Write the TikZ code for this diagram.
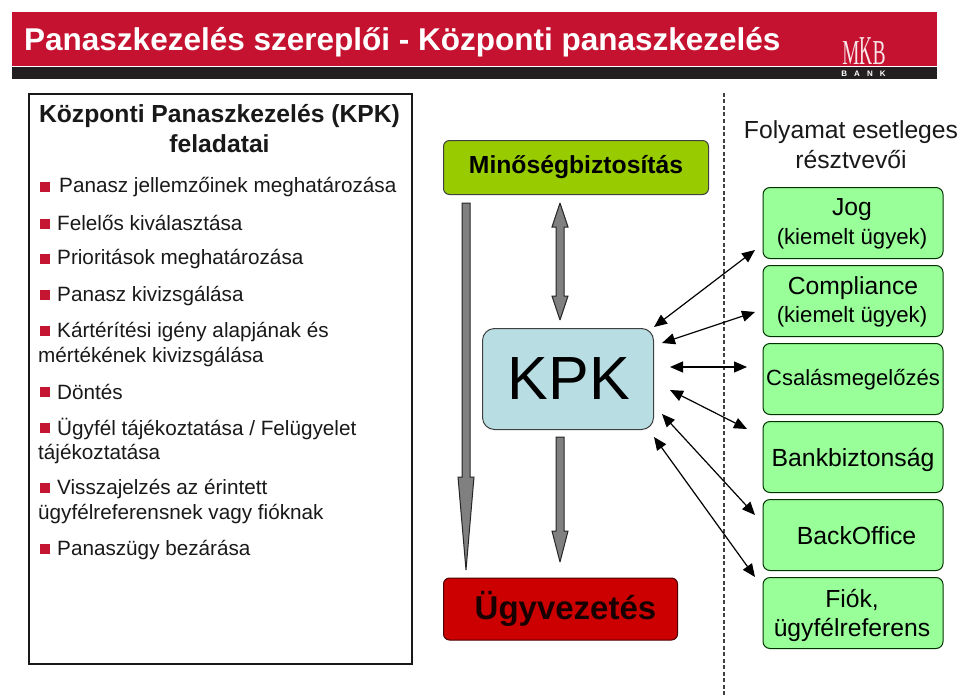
\documentclass[tikz,border=0pt]{standalone}
\usepackage{fontspec}
\setmainfont{Liberation Sans}
\newfontfamily\mkbfont{Liberation Serif}
\usetikzlibrary{arrows.meta,calc}
\definecolor{mkbred}{RGB}{196,18,48}
\definecolor{bul}{RGB}{196,22,50}
\definecolor{bargrey}{RGB}{35,31,32}
\definecolor{limeg}{RGB}{153,204,0}
\definecolor{kpkblue}{RGB}{184,222,228}
\definecolor{ugyred}{RGB}{204,0,0}
\definecolor{lgreen}{RGB}{153,255,153}
\definecolor{arrgrey}{RGB}{128,128,128}
\newcommand{\fs}[1]{\fontsize{#1}{#1}\selectfont}
\tikzset{
  listtext/.style={anchor=west,inner sep=0pt,align=left,text=black!90,font=\fs{20.7}},
  bulletbox/.style={fill=bul,minimum size=10pt,inner sep=0pt,outer sep=0pt,draw=none},
  actor/.style={draw=black!80!green,line width=1pt,rounded corners=7pt,fill=lgreen,anchor=north west,outer sep=0pt,inner sep=0pt,minimum width=180pt,minimum height=71pt},
  link/.style={black,line width=1.2pt,{Triangle[length=13pt,width=11pt]}-{Triangle[length=13pt,width=11pt]}},
  blockarrow/.style={fill=arrgrey,draw=black!85,line width=1pt,miter limit=2},
  logo/.style={text=white!90!mkbred,inner sep=0pt,anchor=base,font=\mkbfont},
}
\newcommand{\downblock}[5]{%
  \draw[blockarrow]
   let \p1=(#1),\p2=(#2) in
   (\x1-#4,\y1)--(\x1+#4,\y1)--(\x1+#4,\y2+#3)--(\x1+#5,\y2+#3)--(\x2,\y2)--(\x1-#5,\y2+#3)--(\x1-#4,\y2+#3)--cycle;}
\begin{document}
\begin{tikzpicture}[x=1pt,y=-1pt]
\useasboundingbox (0,0) rectangle (960,698);
% header
\node[fill=mkbred,minimum width=925pt,minimum height=54pt,inner sep=0,outer sep=0,anchor=north west] (band) at (12,12.5) {};
\fill[bargrey] (12,67.5) rectangle (937,79);
\node[anchor=west,inner sep=0pt,text=white,font=\bfseries\fs{31.5}] (title) at (24,42) {Panaszkezelés szereplői - Központi panaszkezelés};
\node[logo] (mkb) at (864,65) {\fs{35}\scalebox{.55}[1]{M}\fs{41}\scalebox{.44}[1]{K}\fs{35}\scalebox{.56}[1]{B}};
\node[text=white,inner sep=0pt,font=\bfseries\fs{8}] (bank) at (863.5,74) {B\hspace{7pt}A\hspace{7pt}N\hspace{7pt}K};
% left panel
\node[draw=black!90,line width=2pt,fill=white,anchor=north west,minimum width=383pt,minimum height=569pt,inner sep=0,outer sep=0] (panel) at (28.5,94.5) {};
\node[inner sep=0pt,align=center,font=\bfseries\fs{24.7},text=black!90] (ptitle) at (219.5,128.5) {Központi Panaszkezelés (KPK)\\[5pt]feladatai};
\foreach \n/\yy in {a/187,b/224,c/259,d/295,e/331,f/392,g/428,h/488,i/549}{
  \node[bulletbox] (bul\n) at (45,\yy) {};
}
\node[listtext] (ta) at (59,187) {Panasz jellemzőinek meghatározása};
\node[listtext] (tb) at (57,223) {Felelős kiválasztása};
\node[listtext] (tc) at (57,259.5) {Prioritások meghatározása};
\node[listtext] (td) at (57,296) {Panasz kivizsgálása};
\node[listtext] (te) at (57,332) {Kártérítési igény alapjának és};
\node[listtext] (te2) at (38,357) {mértékének kivizsgálása};
\node[listtext] (tf) at (57,392) {Döntés};
\node[listtext] (tg) at (57,429) {Ügyfél tájékoztatása / Felügyelet};
\node[listtext] (tg2) at (38,454) {tájékoztatása};
\node[listtext] (th) at (57,489) {Visszajelzés az érintett};
\node[listtext] (th2) at (38,514) {ügyfélreferensnek vagy fióknak};
\node[listtext] (ti) at (57,550) {Panaszügy bezárása};
% centre boxes
\node[draw=black!75,line width=1pt,rounded corners=6pt,fill=limeg,anchor=north west,minimum width=265pt,minimum height=54pt,inner sep=0,outer sep=0,font=\bfseries\fs{24.7}] (mb) at (443.5,140.5) {Minőségbiztosítás};
\node[draw=black!75,line width=1pt,rounded corners=12pt,fill=kpkblue,anchor=north west,minimum width=171pt,minimum height=101pt,inner sep=0,outer sep=0] (kpk) at (482.5,328.5) {};
\node[inner sep=0,outer sep=0,font=\fs{61}] (kpkt) at (569,379) {KPK};
\node[draw=black!70!red,line width=1pt,rounded corners=6pt,fill=ugyred,anchor=north west,minimum width=234pt,minimum height=62pt,inner sep=0,outer sep=0] (ugy) at (443.5,578) {};
\node[font=\bfseries\fs{33},inner sep=0pt,text=black!90!red] (ugyt) at (565.5,608.5) {Ügyvezetés};
% block arrows
\coordinate (a1s) at (466,203);
\coordinate (a1e) at (466,570);
\downblock{a1s}{a1e}{93}{4}{8}
\coordinate (a2s) at (560,437);
\coordinate (a2e) at (560,562);
\downblock{a2s}{a2e}{31}{4}{8}
\coordinate (a3t) at (560,203);
\coordinate (a3b) at (560,320);
\draw[blockarrow]
  let \p1=(a3t),\p2=(a3b) in
  (\x1,\y1)--(\x1+8,\y1-24)--(\x1+4,\y1-24)--(\x1+4,\y2+24)--(\x1+8,\y2+24)--(\x2,\y2)
  --(\x1-8,\y2+24)--(\x1-4,\y2+24)--(\x1-4,\y1-24)--(\x1-8,\y1-24)--cycle;
% dashed divider
\coordinate (dt) at (724,93);
\coordinate (db) at (724,695);
\draw[black!75,line width=1.6pt,dash pattern=on 4pt off 2.5pt] (dt) -- (db);
% right column
\node[inner sep=0pt,align=center,font=\fs{24.7},text=black!90] (ft) at (851,144.5) {Folyamat esetleges\\[5pt]résztvevői};
\node[actor] (jog) at (763,187.5) {};
\node[inner sep=0,font=\fs{24.7}] (jogt) at (852,210) {Jog};
\node[inner sep=0,font=\fs{22.2}] (jogs) at (852,238.5) {(kiemelt ügyek)};
\node[actor] (comp) at (763,265.5) {};
\node[inner sep=0,font=\fs{24.7}] (compt) at (853,288) {Compliance};
\node[inner sep=0,font=\fs{22.2}] (comps) at (852,316.5) {(kiemelt ügyek)};
\node[actor] (csal) at (763,343.5) {};
\node[inner sep=0,font=\fs{22}] (csalt) at (853,379.5) {Csalásmegelőzés};
\node[actor] (bank2) at (763,421.5) {};
\node[inner sep=0,font=\fs{24.8}] (bankt) at (853,459.5) {Bankbiztonság};
\node[actor] (bo) at (763,499.5) {};
\node[inner sep=0,font=\fs{24.8}] (bot) at (856.5,536) {BackOffice};
\node[actor] (fiok) at (763,577.5) {};
\node[inner sep=0,font=\fs{24.7}] (fiokt) at (852,600) {Fiók,};
\node[inner sep=0,font=\fs{24.7}] (fiokr) at (852,629.5) {ügyfélreferens};
% links
\foreach \n/\ax/\ay/\bx/\by in {1/654/327/755/250,2/662/343/755/312,3/670/367/747/367,4/670/390/747/429,5/662/414/755/515,6/654/437/755/577}{
  \coordinate (k\n) at (\ax,\ay);
  \coordinate (r\n) at (\bx,\by);
  \draw[link] (k\n) -- (r\n);
}
\end{tikzpicture}
\end{document}
